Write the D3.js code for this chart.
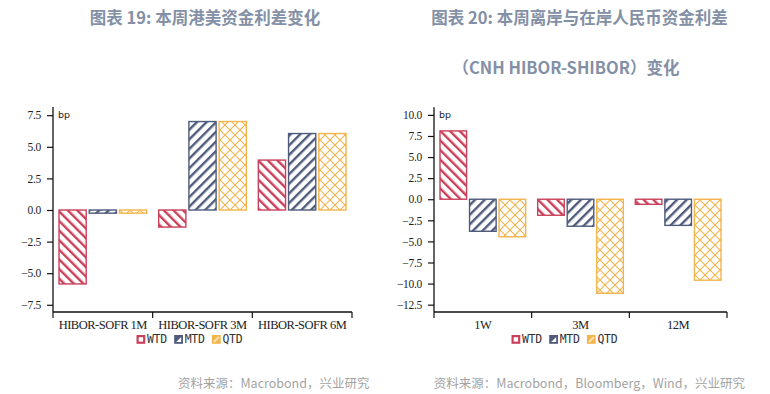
<!DOCTYPE html>
<html><head><meta charset="utf-8">
<script src="https://cdn.jsdelivr.net/npm/d3@7"></script>
<style>
body{margin:0;background:#fff;}
svg{display:block;}
</style></head>
<body>
<svg id="c" width="770" height="394"></svg>
<script>
// ---- data ----
const seriesNames = ["WTD", "MTD", "QTD"];
const catsHK = ["HIBOR-SOFR 1M", "HIBOR-SOFR 3M", "HIBOR-SOFR 6M"];
const wtdHK = [-5.85, -1.35, 3.95];
const mtdHK = [-0.25, 7.0, 6.05];
const qtdHK = [-0.25, 7.0, 6.05];
const ticksHK = [-7.5, -5.0, -2.5, 0.0, 2.5, 5.0, 7.5];

const catsCN = ["1W", "3M", "12M"];
const wtdCN = [8.1, -1.9, -0.6];
const mtdCN = [-3.8, -3.2, -3.1];
const qtdCN = [-4.45, -11.15, -9.6];
const ticksCN = [-12.5, -10.0, -7.5, -5.0, -2.5, 0.0, 2.5, 5.0, 7.5, 10.0];

const titleHK = "图表 19: 本周港美资金利差变化";
const titleCN1 = "图表 20: 本周离岸与在岸人民币资金利差";
const titleCN2 = "（CNH HIBOR-SHIBOR）变化";
const srcHK = "资料来源：Macrobond，兴业研究";
const srcCN = "资料来源：Macrobond，Bloomberg，Wind，兴业研究";

// ---- style ----
const colors = {WTD: "#c8405a", MTD: "#4f5b7b", QTD: "#f3b44a"};
const titleColor = "#8390a6";
const svg = d3.select("#c");
const defs = svg.append("defs");

function stripe(id, color, angle) {
  const p = defs.append("pattern").attr("id", id)
    .attr("patternUnits", "userSpaceOnUse").attr("width", 6.8).attr("height", 6.8)
    .attr("patternTransform", `rotate(${angle})`);
  p.append("rect").attr("width", 6.8).attr("height", 6.8).attr("fill", "#fff");
  p.append("rect").attr("x", 0).attr("width", 2.4).attr("height", 6.8).attr("fill", color);
}
stripe("pWTD", colors.WTD, -45);
stripe("pMTD", colors.MTD, 45);
{
  const p = defs.append("pattern").attr("id", "pQTD")
    .attr("patternUnits", "userSpaceOnUse").attr("width", 10).attr("height", 10);
  p.append("rect").attr("width", 10).attr("height", 10).attr("fill", "#fff");
  p.append("path").attr("d", "M0,0L10,10M10,0L0,10M-1,9L1,11M9,-1L11,1")
    .attr("stroke", colors.QTD).attr("stroke-width", 1.1).attr("fill", "none");
}

const serif = "'Liberation Serif','Times New Roman',serif";
const cjk = "'Noto Sans CJK SC','Noto Sans',sans-serif";

function chart(opt) {
  const {cats, series, ticks, domain, x0, x1, yTop, yBot, padIn, bpX, legendX} = opt;
  const g = svg.append("g");
  const y = d3.scaleLinear().domain(domain).range([yBot, yTop]);
  const x = d3.scaleBand().domain(cats).range([x0, x1]).padding(0);
  const xi = d3.scaleBand().domain(seriesNames)
    .range([padIn, x.bandwidth() - padIn]).paddingInner(0.1).paddingOuter(0);

  // bars
  seriesNames.forEach((s, si) => {
    g.selectAll(null).data(cats.map((c, i) => ({c, v: series[si][i]}))).enter()
      .append("rect")
      .attr("x", d => x(d.c) + xi(s))
      .attr("width", xi.bandwidth())
      .attr("y", d => y(Math.max(0, d.v)))
      .attr("height", d => Math.abs(y(d.v) - y(0)))
      .attr("fill", `url(#p${s})`)
      .attr("stroke", colors[s]).attr("stroke-width", 1.4);
  });

  // y axis
  const ya = g.append("g").attr("transform", `translate(${x0},0)`)
    .call(d3.axisLeft(y).tickValues(ticks).tickFormat(d3.format(".1f")).tickSize(6).tickPadding(6));
  ya.select(".domain").attr("d", `M0,${yTop}V${yBot}`).attr("stroke", "#111").attr("stroke-width", 1.3);
  ya.selectAll(".tick line").attr("stroke", "#111").attr("stroke-width", 1.2);
  ya.selectAll(".tick text").attr("font-family", serif).attr("font-size", 11.5)
    .attr("fill", "#222").attr("letter-spacing", "-0.3px");

  // x axis
  const xa = g.append("g").attr("transform", `translate(0,${yBot})`);
  xa.append("line").attr("x1", x0).attr("x2", x1).attr("stroke", "#111").attr("stroke-width", 1.3);
  const bounds = cats.map(c => x(c)).concat([x1]);
  xa.selectAll(null).data(bounds).enter().append("line")
    .attr("x1", d => d).attr("x2", d => d).attr("y1", 0).attr("y2", 6)
    .attr("stroke", "#111").attr("stroke-width", 1.2);
  xa.selectAll(null).data(cats).enter().append("text")
    .attr("x", d => x(d) + x.bandwidth() / 2).attr("y", 17)
    .attr("text-anchor", "middle").attr("font-family", serif).attr("font-size", 12.5)
    .attr("letter-spacing", "-0.5px").attr("fill", "#222").text(d => d);

  // bp label
  g.append("text").attr("x", bpX).attr("y", yTop + 11).attr("font-family", "'DejaVu Sans',sans-serif")
    .attr("font-size", 9.5).attr("fill", "#222").text("bp");

  // legend
  const lg = g.append("g").attr("transform", `translate(${legendX},${yBot + 23})`);
  seriesNames.forEach((s, i) => {
    const it = lg.append("g").attr("transform", `translate(${i * 37.7},0)`);
    const c = colors[s];
    if (s === "WTD") {
      it.append("rect").attr("x", 1.1).attr("y", 1.1).attr("width", 6.6).attr("height", 6.6)
        .attr("fill", "#fff").attr("stroke", c).attr("stroke-width", 2.2);
    } else if (s === "MTD") {
      it.append("rect").attr("width", 8.8).attr("height", 8.8).attr("fill", c);
      it.append("path").attr("d", "M2,7L7,2V7Z").attr("fill", "#fff");
    } else {
      it.append("rect").attr("width", 8.8).attr("height", 8.8).attr("fill", c);
      it.append("path").attr("d", "M2,7L7,2").attr("stroke", "#fbe2b0").attr("stroke-width", 2);
    }
    it.append("text").attr("x", 10.5).attr("y", 8.4).attr("font-family", "'DejaVu Sans Mono',monospace")
      .attr("font-size", 11.5).attr("fill", "#333").attr("letter-spacing", "-0.3px").text(s);
  });
}

chart({cats: catsHK, series: [wtdHK, mtdHK, qtdHK], ticks: ticksHK, domain: [-8.07, 8.15],
  x0: 53, x1: 352, yTop: 107, yBot: 312, padIn: 6, bpX: 58, legendX: 136.5});
chart({cats: catsCN, series: [wtdCN, mtdCN, qtdCN], ticks: ticksCN, domain: [-13.37, 10.9],
  x0: 434, x1: 727, yTop: 107.3, yBot: 312, padIn: 6, bpX: 439, legendX: 511.5});

// titles
function title(txt, xc, yc) {
  svg.append("text").attr("x", xc).attr("y", yc).attr("text-anchor", "middle")
    .attr("dominant-baseline", "central").attr("font-family", cjk).attr("font-weight", 700)
    .attr("font-size", 16.5).attr("fill", titleColor).text(txt);
}
title(titleHK, 205, 17);
title(titleCN1, 579.5, 17);
title(titleCN2, 566, 67);

// sources
function source(txt, xr) {
  svg.append("text").attr("x", xr).attr("y", 382).attr("text-anchor", "end")
    .attr("dominant-baseline", "central").attr("font-family", cjk)
    .attr("font-size", 12.5).attr("fill", "#a3a3a3").text(txt);
}
source(srcHK, 369.5);
source(srcCN, 745);
</script>
</body></html>
